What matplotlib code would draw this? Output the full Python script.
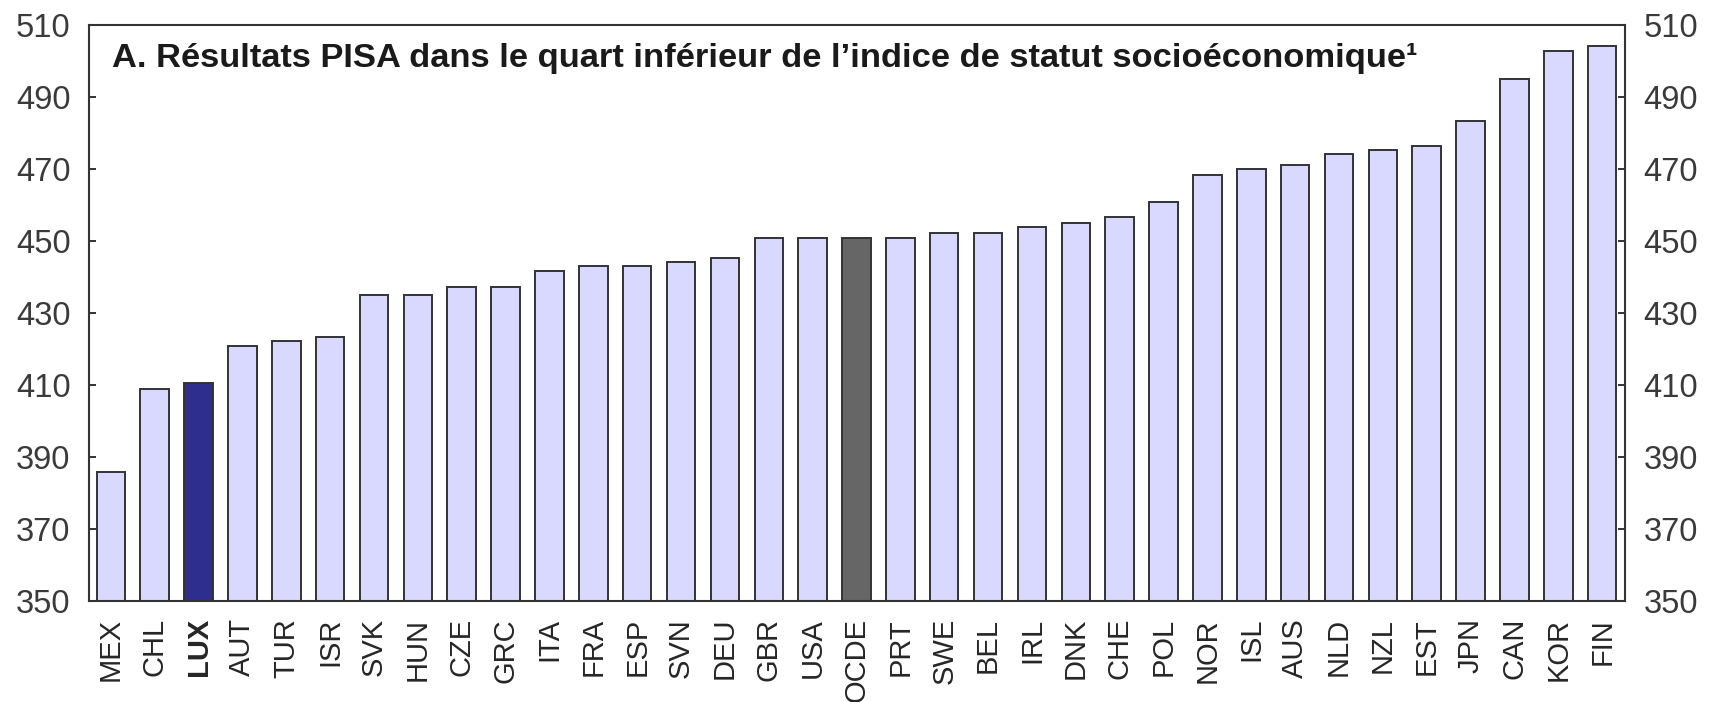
import matplotlib.pyplot as plt

plt.rcParams['font.family'] = ['Liberation Sans', 'DejaVu Sans']

pays = ["MEX", "CHL", "LUX", "AUT", "TUR", "ISR", "SVK", "HUN", "CZE", "GRC",
        "ITA", "FRA", "ESP", "SVN", "DEU", "GBR", "USA", "OCDE", "PRT", "SWE",
        "BEL", "IRL", "DNK", "CHE", "POL", "NOR", "ISL", "AUS", "NLD", "NZL",
        "EST", "JPN", "CAN", "KOR", "FIN"]
scores = [386, 409, 410.7, 421, 422.2, 423.4, 435, 435, 437.2, 437.2,
          441.8, 443, 443, 444.2, 445.3, 451, 451, 451, 451, 452.2,
          452.2, 453.8, 455, 456.7, 460.8, 468.4, 470, 471.2, 474.2, 475.3,
          476.5, 483.4, 494.9, 502.9, 504.1]
yticks = [350, 370, 390, 410, 430, 450, 470, 490, 510]
titre = "A. Résultats PISA dans le quart inférieur de l’indice de statut socioéconomique¹"

couleurs = []
for p in pays:
    if p == "LUX":
        couleurs.append("#2E2E8F")
    elif p == "OCDE":
        couleurs.append("#666666")
    else:
        couleurs.append("#D9D9FF")

fig = plt.figure(figsize=(17.15, 7.02), dpi=100)
ax = fig.add_axes([0.0521, 0.1434, 0.8954, 0.821])

x = range(len(pays))
ax.bar(x, [s - 350 for s in scores], bottom=350, width=0.65,
       color=couleurs, edgecolor="#333333", linewidth=1.4, zorder=2)

ax.set_xlim(-0.49, 34.52)
ax.set_ylim(350, 510)
ax.set_yticks(yticks)
ax.set_xticks(list(x))
ax.set_xticklabels(pays, rotation=90, fontsize=21, color="#262626")
for lab in ax.get_xticklabels():
    if lab.get_text() == "LUX":
        lab.set_fontweight("bold")

ax.tick_params(axis="x", length=0, pad=12)
ax.tick_params(axis="y", direction="in", length=5, width=1.4, color="#333333",
               left=True, right=True, labelleft=True, labelright=True,
               labelsize=23.5, labelcolor="#3a3a3a", pad=13.5)

for s in ax.spines.values():
    s.set_color("#333333")
    s.set_linewidth(1.5)

ax.text(0.0146, 0.927, titre, transform=ax.transAxes, fontsize=24.8,
        fontweight="bold", color="#1a1a1a", va="baseline", ha="left")

fig.savefig("out.png", dpi=100)
